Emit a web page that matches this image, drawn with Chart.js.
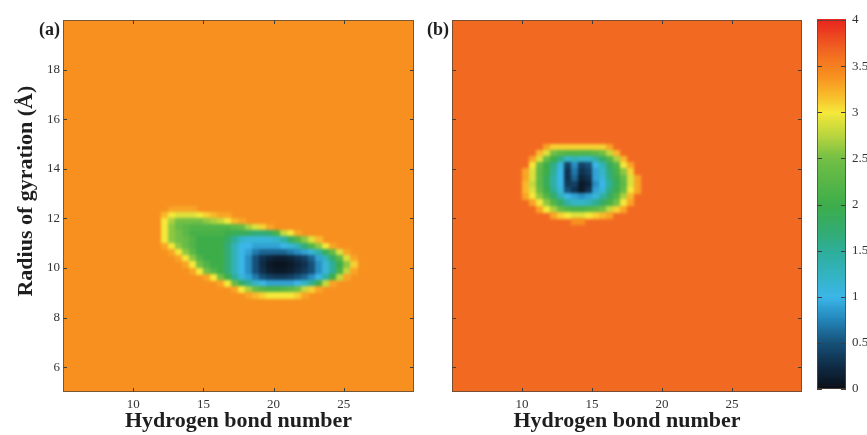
<!DOCTYPE html>
<html>
<head>
<meta charset="utf-8">
<script src="https://cdn.jsdelivr.net/npm/chart.js@4/dist/chart.umd.min.js"></script>
<style>
  html, body { margin: 0; padding: 0; background: #fff; }
  #wrap { position: relative; width: 867px; height: 435px; overflow: hidden; }
  canvas { position: absolute; left: 0; top: 0; }
</style>
</head>
<body>
<div id="wrap">
  <canvas id="panelA" width="867" height="435"></canvas>
  <canvas id="panelB" width="867" height="435"></canvas>
  <canvas id="cbar" width="867" height="435"></canvas>
</div>
<script>
// tick labels
const xTicks = [10, 15, 20, 25];
const yTicks = [6, 8, 10, 12, 14, 16, 18];
const cbTicks = [0, 0.5, 1, 1.5, 2, 2.5, 3, 3.5, 4];

// colour scale (free energy, 0..4)
const cmapVals = [0, 0.25, 0.5, 0.75, 1.0, 1.25, 1.5, 1.75, 2.0, 2.5, 2.75, 3.0, 3.2, 3.4, 3.65, 4.0];
const cmapCols = ['#0a0e16', '#0f2b45', '#165078', '#2384b8', '#3bb6e8', '#33b3c0', '#2eae98', '#34ac6c',
                  '#3dad4a', '#72bf45', '#b8d43e', '#f5e83a', '#f8b82a', '#f7901f', '#f26a22', '#e8261e'];

const n = null; // cell at background level

// (a) background level and the basin around it
const bgA = 3.4;
const hbA = [12, 12.5, 13, 13.5, 14, 14.5, 15, 15.5, 16, 16.5, 17, 17.5, 18, 18.5,
             19, 19.5, 20, 20.5, 21, 21.5, 22, 22.5, 23, 23.5, 24, 24.5, 25, 25.5];
const rgA = [12.5, 12.25, 12, 11.75, 11.5, 11.25, 11, 10.75, 10.5, 10.25, 10, 9.75, 9.5, 9.25, 9];
const feA = [
  [n,3.3,3.3,3.3,3.3,n,n,n,n,n,n,n,n,n,n,n,n,n,n,n,n,n,n,n,n,n,n,n],
  [3.2,3.0,2.9,2.9,2.9,3.0,3.1,3.2,3.3,3.3,n,n,n,n,n,n,n,n,n,n,n,n,n,n,n,n,n,n],
  [3.0,2.7,2.5,2.5,2.5,2.5,2.6,2.7,2.8,3.0,3.2,3.3,n,n,n,n,n,n,n,n,n,n,n,n,n,n,n,n],
  [3.0,2.6,2.4,2.3,2.2,2.2,2.2,2.2,2.2,2.2,2.3,2.4,2.7,2.9,3.1,3.3,n,n,n,n,n,n,n,n,n,n,n,n],
  [3.0,2.6,2.5,2.3,2.1,2.1,2.1,2.1,2.1,2.0,1.9,1.9,1.8,1.7,1.7,1.8,2.1,2.8,3.0,3.3,n,n,n,n,n,n,n,n],
  [3.0,2.6,2.5,2.4,2.2,2.0,2.0,2.0,2.0,1.8,1.5,1.2,1.1,1.1,1.1,1.1,1.2,1.4,1.8,2.2,2.6,2.9,3.2,n,n,n,n,n],
  [3.3,3.0,2.6,2.4,2.2,2.0,2.0,2.0,2.0,1.7,1.3,1.0,1.0,0.9,0.9,0.9,0.9,1.0,1.1,1.3,1.7,2.2,2.6,3.0,3.3,n,n,n],
  [n,3.3,3.0,2.6,2.3,2.0,2.0,2.0,2.0,1.7,1.3,1.0,0.9,0.7,0.6,0.6,0.6,0.6,0.7,0.8,0.9,1.1,1.4,1.9,2.4,2.9,3.3,n],
  [n,n,3.3,3.0,2.6,2.2,2.0,2.0,2.0,1.7,1.3,1.0,0.8,0.5,0.3,0.2,0.15,0.15,0.2,0.3,0.4,0.6,0.9,1.3,1.8,2.3,2.9,3.3],
  [n,n,n,3.3,3.0,2.5,2.2,2.0,2.0,1.7,1.3,1.0,0.8,0.5,0.25,0.1,0.05,0.05,0.1,0.2,0.3,0.5,0.8,1.1,1.5,2.0,2.6,3.1],
  [n,n,n,n,3.3,3.0,2.5,2.2,2.0,1.7,1.3,1.0,0.8,0.5,0.3,0.15,0.1,0.1,0.15,0.25,0.35,0.5,0.8,1.1,1.5,2.1,2.8,3.3],
  [n,n,n,n,n,n,3.3,3.0,2.5,2.0,1.5,1.1,0.9,0.7,0.5,0.4,0.35,0.35,0.4,0.5,0.6,0.8,1.0,1.4,2.0,2.8,3.3,n],
  [n,n,n,n,n,n,n,n,3.3,3.0,2.4,1.8,1.5,1.2,1.0,0.9,0.9,0.9,0.9,1.0,1.2,1.5,2.0,2.8,3.3,n,n,n],
  [n,n,n,n,n,n,n,n,n,n,3.3,3.0,2.7,2.4,2.2,2.1,2.1,2.2,2.3,2.5,2.8,3.1,3.3,n,n,n,n,n],
  [n,n,n,n,n,n,n,n,n,n,n,n,3.3,3.2,3.1,3.0,3.0,3.0,3.0,3.1,3.3,n,n,n,n,n,n,n]
];

// (b) background level and the basin around it
const bgB = 3.65;
const hbB = [10, 10.5, 11, 11.5, 12, 12.5, 13, 13.5, 14, 14.5, 15, 15.5, 16, 16.5, 17, 17.5, 18];
const rgB = [15.25, 15, 14.75, 14.5, 14.25, 14, 13.75, 13.5, 13.25, 13, 12.75, 12.5, 12.25, 12];
const feB = [
  [n,n,n,n,n,n,n,n,n,n,n,n,n,n,n,n,n],
  [n,n,n,3.3,3.1,3.1,3.1,3.1,3.1,3.1,3.1,3.1,3.3,n,n,n,n],
  [n,n,3.2,2.9,2.5,2.3,2.2,2.2,2.2,2.2,2.3,2.5,2.8,3.2,n,n,n],
  [n,3.3,2.9,2.4,2.0,1.6,1.2,1.3,1.2,1.2,1.4,1.8,2.2,2.7,3.2,n,n],
  [n,3.0,2.4,2.0,1.6,1.1,0.4,0.8,0.4,0.5,1.0,1.3,1.8,2.2,3.0,3.3,n],
  [3.3,2.9,2.3,2.0,1.5,1.0,0.3,0.7,0.3,0.4,0.9,1.2,1.7,2.1,2.6,3.1,n],
  [3.3,2.9,2.3,1.9,1.4,1.0,0.3,0.6,0.2,0.3,0.9,1.1,1.6,2.0,2.4,2.9,3.3],
  [3.2,2.8,2.3,1.9,1.4,1.0,0.35,0.4,0.1,0.2,0.8,1.0,1.5,1.9,2.3,2.9,3.3],
  [3.2,2.9,2.4,2.0,1.5,1.1,0.5,0.3,0.1,0.3,0.9,1.1,1.6,2.0,2.4,3.0,3.3],
  [3.3,3.0,2.6,2.2,1.8,1.3,1.0,0.9,0.8,0.9,1.1,1.4,1.8,2.2,2.7,3.2,n],
  [n,3.3,3.0,2.6,2.2,1.8,1.4,1.2,1.2,1.3,1.5,1.8,2.1,2.5,3.0,3.3,n],
  [n,n,3.3,3.0,2.7,2.4,2.2,2.1,2.1,2.2,2.3,2.5,2.8,3.1,3.3,n,n],
  [n,n,n,n,3.3,3.1,3.0,2.9,2.9,3.0,3.1,3.2,3.3,n,n,n,n],
  [n,n,n,n,n,n,n,3.4,3.4,n,n,n,n,n,n,n,n]
];

const serif = "'Liberation Serif', 'DejaVu Serif', serif";
const tickFont = { family: serif, size: 13 };
const titleFont = { family: serif, size: 22, weight: 'bold' };
const inkTick = '#333';
const inkTitle = '#1e1e1e';

// colour lookup on the stops above
const rgbCols = cmapCols.map(h => [1, 3, 5].map(i => parseInt(h.substr(i, 2), 16)));
function colorOf(v) {
  if (v <= cmapVals[0]) return cmapCols[0];
  for (let i = 1; i < cmapVals.length; i++) {
    if (v <= cmapVals[i]) {
      const t = (v - cmapVals[i - 1]) / (cmapVals[i] - cmapVals[i - 1]);
      const a = rgbCols[i - 1], b = rgbCols[i];
      return 'rgb(' + a.map((c, k) => Math.round(c + (b[k] - c) * t)).join(',') + ')';
    }
  }
  return cmapCols[cmapCols.length - 1];
}

// heat map cells, placed with the chart scales; softened like the printed figure
function heatPlugin(hb, rg, grid, bg) {
  return {
    id: 'heat',
    beforeDatasetsDraw(chart) {
      const { ctx, chartArea: a, scales: { x, y } } = chart;
      const off = document.createElement('canvas');
      off.width = chart.width;
      off.height = chart.height;
      const oc = off.getContext('2d');
      oc.fillStyle = colorOf(bg);
      oc.fillRect(a.left - 10, a.top - 10, a.right - a.left + 20, a.bottom - a.top + 20);
      const dx = hb[1] - hb[0], dy = rg[0] - rg[1];
      grid.forEach((row, r) => row.forEach((v, c) => {
        if (v === null) return;
        const x0 = Math.floor(x.getPixelForValue(hb[c]));
        const x1 = Math.ceil(x.getPixelForValue(hb[c] + dx));
        const y0 = Math.floor(y.getPixelForValue(rg[r]));
        const y1 = Math.ceil(y.getPixelForValue(rg[r] - dy));
        oc.fillStyle = colorOf(v);
        oc.fillRect(x0, y0, x1 - x0, y1 - y0);
      }));
      ctx.save();
      ctx.beginPath();
      ctx.rect(a.left, a.top, a.right - a.left, a.bottom - a.top);
      ctx.clip();
      ctx.filter = 'blur(1.6px)';
      ctx.drawImage(off, 0, 0);
      ctx.restore();
    }
  };
}

// frame, inward ticks on every side, panel letter, y title
function framePlugin(label, len, yTitle) {
  return {
    id: 'frame',
    afterDraw(chart) {
      const { ctx, chartArea: a, scales: { x, y } } = chart;
      ctx.save();
      ctx.strokeStyle = '#3c3c3c';
      ctx.lineWidth = 1;
      ctx.beginPath();
      if (x.options.display !== false) {
        x.ticks.forEach(t => {
          const px = Math.round(x.getPixelForValue(t.value)) + 0.5;
          ctx.moveTo(px, a.bottom); ctx.lineTo(px, a.bottom - len);
          ctx.moveTo(px, a.top); ctx.lineTo(px, a.top + len);
        });
      }
      y.ticks.forEach(t => {
        const py = Math.round(y.getPixelForValue(t.value)) + 0.5;
        ctx.moveTo(a.left, py); ctx.lineTo(a.left + len, py);
        ctx.moveTo(a.right, py); ctx.lineTo(a.right - len, py);
      });
      ctx.stroke();
      ctx.strokeStyle = 'rgba(90,70,55,0.8)';
      ctx.strokeRect(a.left + 0.5, a.top + 0.5, a.right - a.left - 1, a.bottom - a.top - 1);
      ctx.fillStyle = inkTitle;
      if (label) {
        ctx.font = 'bold 18px ' + serif;
        ctx.textAlign = 'right';
        ctx.textBaseline = 'middle';
        ctx.fillText(label, a.left - 3, a.top + 10);
      }
      if (yTitle) {
        ctx.translate(26, y.getPixelForValue(13.1));
        ctx.rotate(-Math.PI / 2);
        ctx.font = 'bold 22px ' + serif;
        ctx.textAlign = 'center';
        ctx.textBaseline = 'middle';
        ctx.fillText(yTitle, 0, 0);
      }
      ctx.restore();
    }
  };
}

function panel(id, label, hb, rg, grid, bg, padLeft, padRight, yWidth, showY) {
  return new Chart(document.getElementById(id), {
    type: 'scatter',
    data: { datasets: [{ data: [] }] },
    options: {
      responsive: false,
      animation: false,
      events: [],
      layout: { padding: { left: padLeft, right: padRight, top: 20, bottom: 0 } },
      plugins: { legend: { display: false }, tooltip: { enabled: false } },
      scales: {
        x: {
          type: 'linear', min: 5, max: 30,
          afterBuildTicks: s => { s.ticks = xTicks.map(v => ({ value: v })); },
          afterFit: s => { s.height = 43; },
          grid: { display: false, drawTicks: false },
          border: { display: false },
          ticks: { font: tickFont, color: inkTick, padding: 5, maxRotation: 0, autoSkip: false, callback: v => String(v) },
          title: { display: true, text: 'Hydrogen bond number', font: titleFont, color: inkTitle, padding: { top: 0, bottom: 0 } }
        },
        y: {
          type: 'linear', min: 5, max: 20,
          afterBuildTicks: s => { s.ticks = yTicks.map(v => ({ value: v })); },
          afterFit: s => { s.width = yWidth; },
          grid: { display: false, drawTicks: false },
          border: { display: false },
          ticks: { display: showY, font: tickFont, color: inkTick, padding: 3, callback: v => String(v) }
        }
      }
    },
    plugins: [heatPlugin(hb, rg, grid, bg), framePlugin(label, 4, showY ? 'Radius of gyration (Å)' : null)]
  });
}

panel('panelA', '(a)', hbA, rgA, feA, bgA, 0, 453, 63, true);
panel('panelB', '(b)', hbB, rgB, feB, bgB, 452, 65, 0, false);

// colour bar, filled through its own value axis
const barPlugin = {
  id: 'bar',
  beforeDatasetsDraw(chart) {
    const { ctx, chartArea: a, scales: { y } } = chart;
    ctx.save();
    for (let v = 0; v < 4; v += 0.02) {
      const y0 = Math.floor(y.getPixelForValue(v + 0.02));
      const y1 = Math.ceil(y.getPixelForValue(v));
      ctx.fillStyle = colorOf(v + 0.01);
      ctx.fillRect(a.left, y0, a.right - a.left, y1 - y0);
    }
    ctx.restore();
  }
};

new Chart(document.getElementById('cbar'), {
  type: 'scatter',
  data: { datasets: [{ data: [] }] },
  options: {
    responsive: false,
    animation: false,
    events: [],
    layout: { padding: { left: 817, right: 0, top: 20, bottom: 46 } },
    plugins: { legend: { display: false }, tooltip: { enabled: false } },
    scales: {
      x: { type: 'linear', display: false, min: 0, max: 1 },
      y: {
        type: 'linear', position: 'right', min: 0, max: 4,
        afterBuildTicks: s => { s.ticks = cbTicks.map(v => ({ value: v })); },
        afterFit: s => { s.width = 21; },
        grid: { display: false, drawTicks: false },
        border: { display: false },
        ticks: { font: tickFont, color: inkTick, padding: 6, callback: v => String(v) }
      }
    }
  },
  plugins: [barPlugin, framePlugin(null, 5, null)]
});
</script>
</body>
</html>
